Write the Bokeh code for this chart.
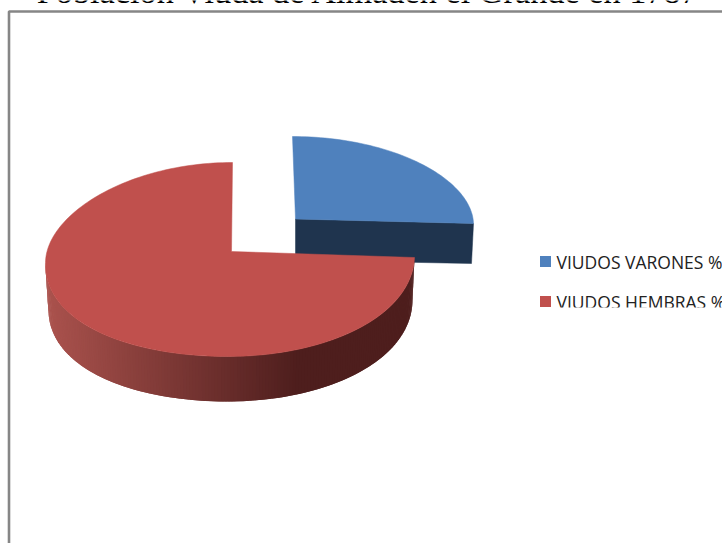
from math import cos, sin, pi

from bokeh.core.properties import value
from bokeh.embed import file_html
from bokeh.models import Range1d
from bokeh.plotting import figure
from bokeh.resources import INLINE

# Widowed population, share by sex
categories = ["VIUDOS VARONES %", "VIUDOS HEMBRAS %"]
shares = [25, 75]
title_text = "Población Viuda de Almadén el Grande en 1787"

W, H = 722, 543
BLUE_TOP, BLUE_SIDE = "#4F81BD", "#1F344E"
RED_TOP = "#C0504D"
WALL_LEFT, WALL_RIGHT = (170, 82, 77), (78, 30, 29)


def rim(t, cx, cy, rx_l, rx_r, ry_b, ry_f, k_l, k_r, sk_b, sk_f):
    """Point on a slanted ellipse; t in radians, measured counter-clockwise from east."""
    c, s = cos(t), sin(t)
    rx = rx_r if c >= 0 else rx_l
    ry = ry_b if s >= 0 else ry_f
    k = k_r if c >= 0 else k_l
    sk = sk_b if s >= 0 else sk_f
    return cx + rx * c + sk * s, cy - ry * s + k * c * c


p = figure(
    width=W, height=H, output_backend="svg", toolbar_location=None,
    x_range=Range1d(0, W), y_range=Range1d(H, 0),
    min_border=0, outline_line_color=None,
)
p.axis.visible = False
p.grid.visible = False
p.background_fill_color = "white"
p.border_fill_color = "white"

# Chart frame: open towards the right and bottom edges of the page
p.line([8.5, 8.5, W], [H, 11, 11], line_color="#868686", line_width=2.6)

# Each wedge runs clockwise from twelve o'clock in proportion to its share
start_blue = pi / 2
end_blue = start_blue - 2 * pi * shares[0] / sum(shares)
start_red = end_blue
end_red = start_red - 2 * pi * shares[1] / sum(shares)

# Exploded blue wedge: its cut face first, then its top
BLUE = dict(cx=295, cy=218.5, rx_l=178, rx_r=178, ry_b=82.5, ry_f=82.5,
            k_l=4.5, k_r=4.5, sk_b=-3, sk_f=0)
bx, by = rim(end_blue, **BLUE)
p.patch([295, bx, bx - 2, 295], [218.5, by, by + 40, 218.5 + 41],
        fill_color=BLUE_SIDE, line_color=BLUE_SIDE, line_width=0.5)
steps = 60
arc = [rim(start_blue + (end_blue - start_blue) * i / steps, **BLUE) for i in range(steps + 1)]
p.patch([295] + [a[0] for a in arc], [218.5] + [a[1] for a in arc],
        fill_color=BLUE_TOP, line_color=BLUE_TOP, line_width=0.5)

# Red wedge: curved outer wall as shaded strips, then the top
RED = dict(cx=231, cy=251, rx_l=186, rx_r=183, ry_b=89, ry_f=105,
           k_l=11, k_r=6, sk_b=1, sk_f=4)
DEPTH = 45
wall_xs, wall_ys, wall_cols = [], [], []
strips = 180
for i in range(strips):
    t0 = pi + pi * i / strips
    # each strip reaches over the start of the next one to hide the seams
    t1 = pi + pi * min(strips, i + 2) / strips
    x0, y0 = rim(t0, **RED)
    x1, y1 = rim(t1, **RED)
    # the lower rim sits a little inside the upper one
    d0, d1 = 3 * abs(cos(t0)), 3 * abs(cos(t1))
    sx0 = 1 if cos(t0) < 0 else -0.7
    sx1 = 1 if cos(t1) < 0 else -0.7
    wall_xs.append([x0, x1, x1 + d1 * sx1, x0 + d0 * sx0])
    wall_ys.append([y0, y1, y1 + DEPTH, y0 + DEPTH])
    # shade darkens from the left rim until about x=300, then stays flat
    f = min(1.0, max(0.0, (0.5 * (x0 + x1) - 48) / 250))
    rgb = [round(a + (b - a) * f) for a, b in zip(WALL_LEFT, WALL_RIGHT)]
    wall_cols.append("#%02x%02x%02x" % tuple(rgb))
p.patches(wall_xs, wall_ys, fill_color=wall_cols, line_color=None)

steps = 180
arc = [rim(start_red + (end_red - start_red) * i / steps, **RED) for i in range(steps + 1)]
p.patch([231] + [a[0] for a in arc], [251] + [a[1] for a in arc],
        fill_color=RED_TOP, line_color=RED_TOP, line_width=0.5)

# Title sits mostly above the page edge
p.text([W / 2 + 7], [-9.5], text=[title_text], text_font=value("Liberation Serif"),
       text_font_size="34.3px", text_align="center", text_baseline="alphabetic",
       text_color="#000000")

# Legend
legend_y = [261, 301]
p.scatter([545, 545], legend_y, marker="square", size=11,
          color=[BLUE_TOP, RED_TOP], line_color=None)
p.text([556, 556], legend_y, text=categories,
       text_font=value("Open Sans"), text_font_size="17.5px",
       text_align="left", text_baseline="alphabetic", text_color="#222222")

# The lower legend row is cut by the band under it
p.quad(left=[530], right=[W], top=[307], bottom=[322], fill_color="white", line_color=None)

open("out.html", "w").write(file_html(p, INLINE))
